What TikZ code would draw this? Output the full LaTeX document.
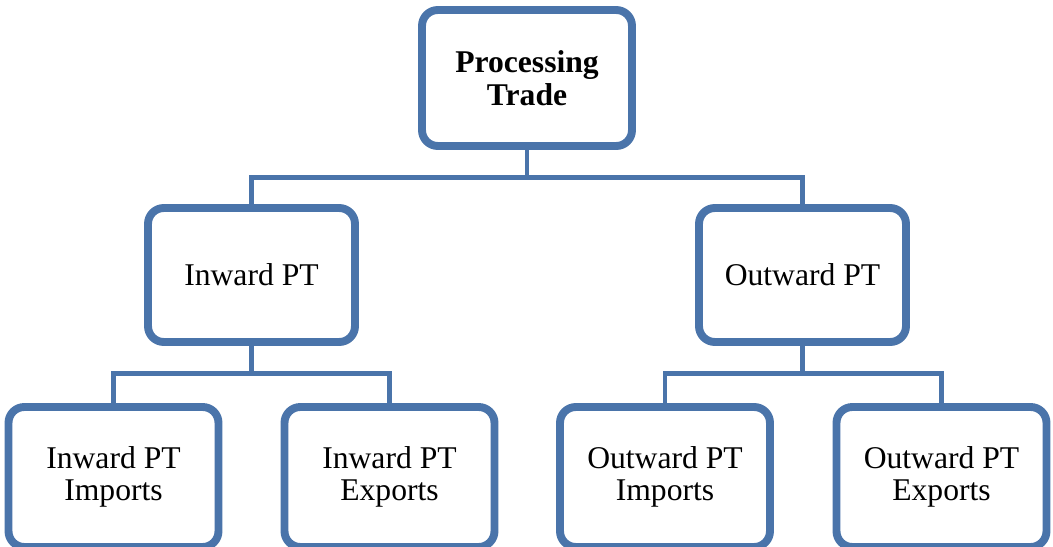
\documentclass[tikz,border=0pt]{standalone}
\usepackage{fontspec}
\setmainfont{Liberation Serif}
\usepackage{tikz}
\usetikzlibrary{shadows}
\definecolor{boxblue}{HTML}{4A74AA}

\tikzset{
  ptbox/.style={draw=boxblue, line width=4.5pt, fill=white, rounded corners=9pt,
    align=center, font=\fontsize{18}{18.5}\selectfont,
    drop shadow={opacity=0.25, shadow xshift=0.04cm, shadow yshift=-0.07cm}},
  link/.style={draw=boxblue, line width=2.8pt}
}

\begin{document}
\begin{tikzpicture}
  \useasboundingbox (0,0) rectangle (21.06,-10.94);

  %% Level 0
  \node[ptbox, minimum width=4.2cm, minimum height=2.72cm, font=\fontsize{18}{18.5}\selectfont\bfseries]
    (pt) at (10.54,-1.56) {Processing\\Trade};

  %% Level 1
  \node[ptbox, minimum width=4.14cm, minimum height=2.68cm] (inw) at (5.03,-5.50) {Inward PT};
  \node[ptbox, minimum width=4.14cm, minimum height=2.68cm] (outw) at (16.05,-5.50) {Outward PT};

  %% Level 2 (cut off at the bottom edge)
  \node[ptbox, minimum width=4.2cm, minimum height=2.8cm] (inwimp) at (2.27,-9.54) {Inward PT\\Imports};
  \node[ptbox, minimum width=4.2cm, minimum height=2.8cm] (inwexp) at (7.79,-9.54) {Inward PT\\Exports};
  \node[ptbox, minimum width=4.2cm, minimum height=2.8cm] (outwimp) at (13.30,-9.54) {Outward PT\\Imports};
  \node[ptbox, minimum width=4.2cm, minimum height=2.8cm] (outwexp) at (18.83,-9.54) {Outward PT\\Exports};

  %% Connectors
  \draw[link] (pt.south) -- ++(0,-0.56) -| (inw.north);
  \draw[link] (pt.south) ++(0,-0.56) -| (outw.north);
  \draw[link] (inw.south) -- ++(0,-0.56) -| (inwimp.north);
  \draw[link] (inw.south) ++(0,-0.56) -| (inwexp.north);
  \draw[link] (outw.south) -- ++(0,-0.56) -| (outwimp.north);
  \draw[link] (outw.south) ++(0,-0.56) -| (outwexp.north);
\end{tikzpicture}
\end{document}
